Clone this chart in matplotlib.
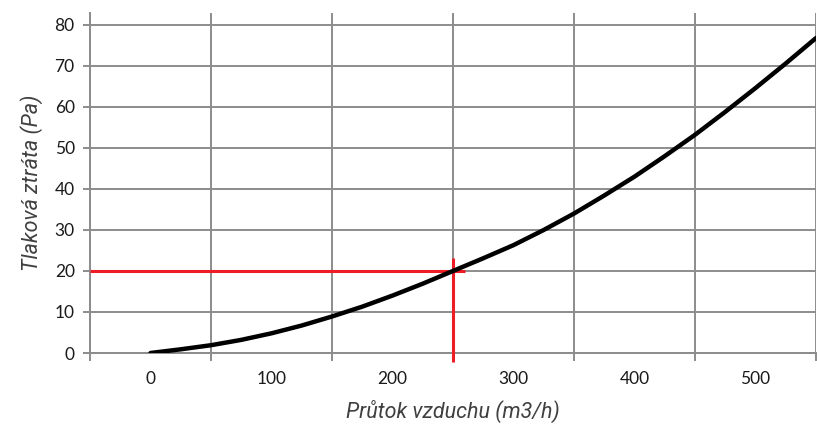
import matplotlib.pyplot as plt
import numpy as np

# curve
flow = [0, 25, 50, 75, 100, 125, 150, 175, 200, 225, 250, 275,
        300, 325, 350, 375, 400, 425, 450, 475, 500, 525, 550]
loss = [0, 0.9, 1.9, 3.2, 4.8, 6.7, 8.9, 11.3, 14.0, 16.9, 20.0, 23.1,
        26.3, 30.0, 34.0, 38.4, 43.0, 48.0, 53.2, 58.8, 64.6, 70.6, 76.8]

# working point
work_flow = 250
work_loss = 20

x_labels = [0, 100, 200, 300, 400, 500]
grid_x = [-50, 50, 150, 250, 350, 450, 550]
y_ticks = [0, 10, 20, 30, 40, 50, 60, 70, 80]

GRID = '#8c8c8c'
TEXT = '#404040'
LABEL_FONT = ['Liberation Sans Narrow', 'Roboto', 'DejaVu Sans']
TICK_FONT = ['Lato', 'DejaVu Sans']

fig = plt.figure(figsize=(8.17, 4.33), dpi=100)
ax = fig.add_axes([90 / 817, 80 / 433, 726 / 817, 340 / 433])

ax.set_xlim(-50, 550)
ax.set_ylim(0, 82.9)

# grid at odd fifties, labels at hundreds
ax.set_xticks(grid_x)
ax.set_xticklabels([])
ax.set_xticks(x_labels, minor=True)
ax.set_xticklabels([str(v) for v in x_labels], minor=True, fontfamily=TICK_FONT,
                   fontsize=12.5, color='#1a1a1a')
ax.tick_params(axis='x', which='major', length=6, width=1.4, color=GRID, direction='out')
ax.tick_params(axis='x', which='minor', length=0, pad=13)

ax.set_yticks(y_ticks)
ax.set_yticklabels([str(v) for v in y_ticks], fontfamily=TICK_FONT, fontsize=12.5,
                   color='#1a1a1a')
ax.tick_params(axis='y', length=5, width=1.4, color=GRID, direction='out', pad=6)

ax.grid(True, which='major', color=GRID, linewidth=1.4)
ax.set_axisbelow(True)
for side in ['top', 'right']:
    ax.spines[side].set_visible(False)
for side in ['left', 'bottom']:
    ax.spines[side].set_color(GRID)
    ax.spines[side].set_linewidth(1.4)

ax.plot(flow, loss, color='black', linewidth=3.2, solid_capstyle='round',
        solid_joinstyle='round', zorder=4)

# red guide lines
ax.plot([-50, 260], [work_loss, work_loss], color='#ee1c25', linewidth=2.2, zorder=3,
        solid_capstyle='butt')
ax.plot([work_flow, work_flow], [-2.1, 23.2], color='#ee1c25', linewidth=2.2, zorder=3,
        clip_on=False, solid_capstyle='butt')

ax.set_xlabel('Průtok vzduchu (m3/h)', fontfamily=LABEL_FONT, fontstyle='italic',
              fontsize=15.5, color=TEXT, labelpad=9)
ax.set_ylabel('Tlaková ztráta (Pa)', fontfamily=LABEL_FONT, fontstyle='italic',
              fontsize=15.5, color=TEXT, labelpad=8)

fig.savefig('out.png', dpi=100)
